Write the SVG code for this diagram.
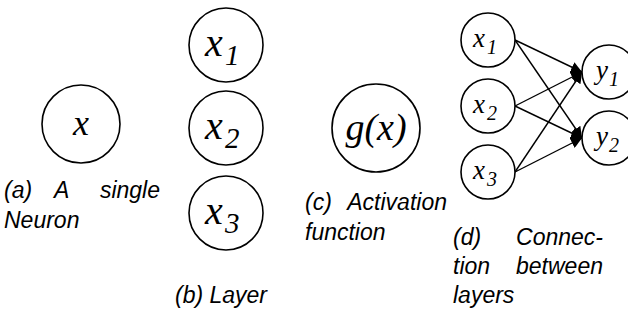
<svg xmlns="http://www.w3.org/2000/svg" width="628" height="322" viewBox="0 0 628 322">
<style>
.n{fill:#fff;stroke:#000;stroke-width:1.6}
.m{font-family:"Liberation Serif","Times New Roman",serif;font-style:italic;fill:#000}
.c{font-family:"Liberation Sans",Arial,sans-serif;font-style:italic;font-size:23px;fill:#000}
.r{text-anchor:end}
.e{stroke:#000;stroke-width:1.4;fill:none}
</style>
<defs>
<marker id="ah" viewBox="0 0 10 10" refX="10" refY="5" markerWidth="11" markerHeight="11" markerUnits="userSpaceOnUse" orient="auto"><path d="M0,0 L10,5 L0,10 z" fill="#000"/></marker>
</defs>
<rect width="628" height="322" fill="#fff"/>
<g id="a-x"><circle class="n" cx="81" cy="124" r="39"/><text class="m" x="81" y="135" font-size="36" text-anchor="middle">x</text></g>
<g id="cap-a"><text class="c" x="4" y="198">(a)</text><text class="c" x="54" y="198">A</text><text class="c r" x="160" y="198">single</text><text class="c" x="4" y="228">Neuron</text></g>
<g id="b-x1"><circle class="n" cx="226" cy="45" r="37"/><text class="m" x="205" y="56" font-size="40">x</text><text class="m" x="225" y="65" font-size="29">1</text></g>
<g id="b-x2"><circle class="n" cx="226" cy="128" r="37"/><text class="m" x="205" y="139" font-size="40">x</text><text class="m" x="225" y="148" font-size="29">2</text></g>
<g id="b-x3"><circle class="n" cx="226" cy="213" r="37"/><text class="m" x="205" y="224" font-size="40">x</text><text class="m" x="225" y="233" font-size="29">3</text></g>
<g id="cap-b"><text class="c" x="175" y="303">(b) Layer</text></g>
<g id="c-g"><circle class="n" cx="376" cy="128" r="44"/><text class="m" x="376" y="140" font-size="38" text-anchor="middle">g(x)</text></g>
<g id="cap-c"><text class="c" x="305" y="210">(c)</text><text class="c r" x="447" y="210">Activation</text><text class="c" x="305" y="240">function</text></g>
<g id="edges">
<line class="e" x1="515" y1="40" x2="582" y2="72" marker-end="url(#ah)"/>
<line class="e" x1="515" y1="40" x2="582" y2="138" marker-end="url(#ah)"/>
<line class="e" x1="515" y1="106" x2="582" y2="72" marker-end="url(#ah)"/>
<line class="e" x1="515" y1="106" x2="582" y2="138" marker-end="url(#ah)"/>
<line class="e" x1="515" y1="172" x2="582" y2="72" marker-end="url(#ah)"/>
<line class="e" x1="515" y1="172" x2="582" y2="138" marker-end="url(#ah)"/>
</g>
<g id="d-x1"><circle class="n" cx="488" cy="40" r="27"/><text class="m" x="473" y="47" font-size="27">x</text><text class="m" x="487" y="54" font-size="20">1</text></g>
<g id="d-x2"><circle class="n" cx="488" cy="106" r="27"/><text class="m" x="473" y="113" font-size="27">x</text><text class="m" x="487" y="120" font-size="20">2</text></g>
<g id="d-x3"><circle class="n" cx="488" cy="172" r="27"/><text class="m" x="473" y="179" font-size="27">x</text><text class="m" x="487" y="186" font-size="20">3</text></g>
<g id="d-y1"><circle class="n" cx="609" cy="72" r="27"/><text class="m" x="596" y="79" font-size="27">y</text><text class="m" x="609" y="86" font-size="20">1</text></g>
<g id="d-y2"><circle class="n" cx="609" cy="138" r="27"/><text class="m" x="596" y="145" font-size="27">y</text><text class="m" x="609" y="152" font-size="20">2</text></g>
<g id="cap-d"><text class="c" x="453" y="245">(d)</text><text class="c r" x="603" y="245">Connec-</text><text class="c" x="453" y="274">tion</text><text class="c r" x="603" y="274">between</text><text class="c" x="453" y="303">layers</text></g>
</svg>
